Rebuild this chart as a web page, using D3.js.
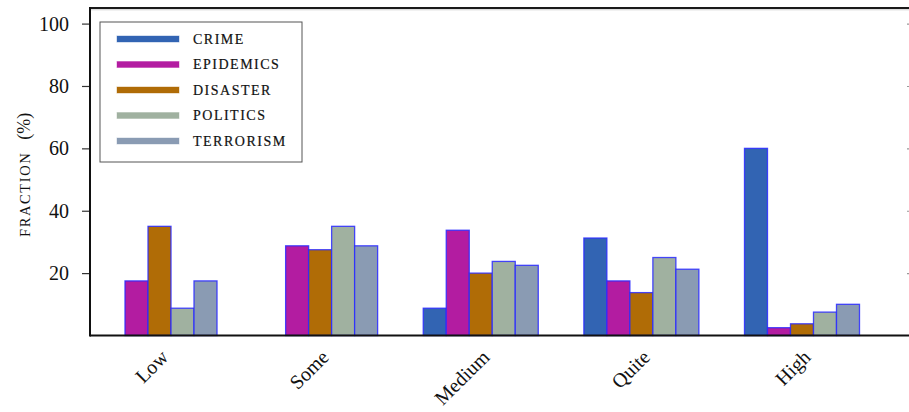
<!DOCTYPE html>
<html>
<head>
<meta charset="utf-8">
<script src="https://cdn.jsdelivr.net/npm/d3@7"></script>
<style>
  html, body { margin: 0; padding: 0; background: #fff; }
  svg { display: block; }
</style>
</head>
<body>
<svg id="chart" width="909" height="412"></svg>
<script>
// Levels on the x axis
const categories = ["Low", "Some", "Medium", "Quite", "High"];
// News topics (one bar per topic in every level)
const seriesNames = ["CRIME", "EPIDEMICS", "DISASTER", "POLITICS", "TERRORISM"];
// Share of each topic falling in each level (%)
const crime     = [0, 0, 8.75, 31.25, 60];
const epidemics = [17.5, 28.75, 33.75, 17.5, 2.5];
const disaster  = [35, 27.5, 20, 13.75, 3.75];
const politics  = [8.75, 35, 23.75, 25, 7.5];
const terrorism = [17.5, 28.75, 22.5, 21.25, 10];
const yTicks = [20, 40, 60, 80, 100];

const seriesValues = [crime, epidemics, disaster, politics, terrorism];
const colors = ["#3264b3", "#b31ca1", "#b06c06", "#a0b1a0", "#8a9bb3"];

const svg = d3.select("#chart");
const plotLeft = 90, plotRight = 909, plotTop = 8, plotBottom = 335.5;
const serif = "'Liberation Serif', 'DejaVu Serif', serif";

const x = d3.scaleBand().domain(categories).range([102, 859.5]).paddingInner(0.284).paddingOuter(0);
const xs = d3.scaleBand().domain(seriesNames).range([0, x.bandwidth()]);
const y = d3.scaleLinear().domain([0, 105]).range([plotBottom, plotTop]);

// Bars
const groups = svg.append("g").selectAll("g")
  .data(categories)
  .join("g")
  .attr("transform", d => `translate(${x(d)},0)`);

groups.selectAll("rect")
  .data((c, ci) => seriesNames.map((s, si) => ({ s, si, v: seriesValues[si][ci] })))
  .join("rect")
  .attr("x", d => xs(d.s))
  .attr("y", d => y(d.v))
  .attr("width", xs.bandwidth())
  .attr("height", d => y(0) - y(d.v))
  .attr("fill", d => colors[d.si])
  .attr("stroke", "#2a2aff")
  .attr("stroke-width", 1.3)
  .attr("stroke-opacity", 0.85);

// Left axis
const yAxis = d3.axisLeft(y).tickValues(yTicks).tickSize(8).tickPadding(13).tickFormat(d3.format("d"));
const ya = svg.append("g").attr("transform", `translate(${plotLeft},0)`).call(yAxis);
ya.select(".domain").remove();
ya.selectAll(".tick line").attr("stroke", "#333").attr("stroke-width", 1.2);
ya.selectAll(".tick text")
  .attr("font-family", serif).attr("font-size", 20).attr("fill", "#111");

// Small inner ticks on the right edge
const yr = svg.append("g").attr("transform", `translate(${plotRight},0)`)
  .call(d3.axisLeft(y).tickValues(yTicks).tickSize(2).tickFormat(""));
yr.select(".domain").remove();
yr.selectAll(".tick line").attr("stroke", "#999").attr("stroke-width", 1.2);

// Frame lines
svg.append("line").attr("x1", plotLeft).attr("x2", plotRight).attr("y1", plotTop).attr("y2", plotTop)
  .attr("stroke", "#1a1a1a").attr("stroke-width", 2);
svg.append("line").attr("x1", plotLeft).attr("x2", plotRight).attr("y1", plotTop + 1.8).attr("y2", plotTop + 1.8)
  .attr("stroke", "#cfcfcf").attr("stroke-width", 1);
svg.append("line").attr("x1", plotLeft).attr("x2", plotLeft).attr("y1", plotTop - 1).attr("y2", plotBottom + 1)
  .attr("stroke", "#111").attr("stroke-width", 2);
svg.append("line").attr("x1", plotLeft).attr("x2", plotRight).attr("y1", plotBottom).attr("y2", plotBottom)
  .attr("stroke", "#111").attr("stroke-width", 2);

// Category labels, rotated
svg.append("g").selectAll("text")
  .data(categories)
  .join("text")
  .attr("transform", d => `translate(${x(d) + x.bandwidth() / 2},${plotBottom + 13}) rotate(-45)`)
  .attr("text-anchor", "end")
  .attr("dy", "0.7em")
  .attr("font-family", serif)
  .attr("font-size", 20)
  .attr("fill", "#111")
  .text(d => d);

// Y axis title
const yt = svg.append("text")
  .attr("transform", `translate(30,237) rotate(-90)`)
  .attr("text-anchor", "start")
  .attr("font-family", serif)
  .attr("fill", "#111");
yt.append("tspan").attr("font-size", 14.5).attr("letter-spacing", 1.6).text("FRACTION");
yt.append("tspan").attr("font-size", 18).attr("dx", 12).text("(%)");

// Legend
const lg = svg.append("g");
lg.append("rect").attr("x", 100).attr("y", 22).attr("width", 202).attr("height", 140)
  .attr("fill", "#fff").attr("stroke", "#555").attr("stroke-width", 1);
const items = lg.selectAll("g.item").data(seriesNames).join("g")
  .attr("transform", (d, i) => `translate(0,${39 + i * 25.5})`);
items.append("rect").attr("x", 117).attr("y", -3).attr("width", 62).attr("height", 6)
  .attr("fill", (d, i) => colors[i]).attr("stroke", (d, i) => colors[i]).attr("stroke-opacity", 0.4);
items.append("text").attr("x", 193).attr("dy", "0.35em")
  .attr("font-family", serif).attr("font-size", 14).attr("letter-spacing", 1.5)
  .attr("fill", "#111").attr("stroke", "#111").attr("stroke-width", 0.2)
  .text(d => d);
</script>
</body>
</html>
